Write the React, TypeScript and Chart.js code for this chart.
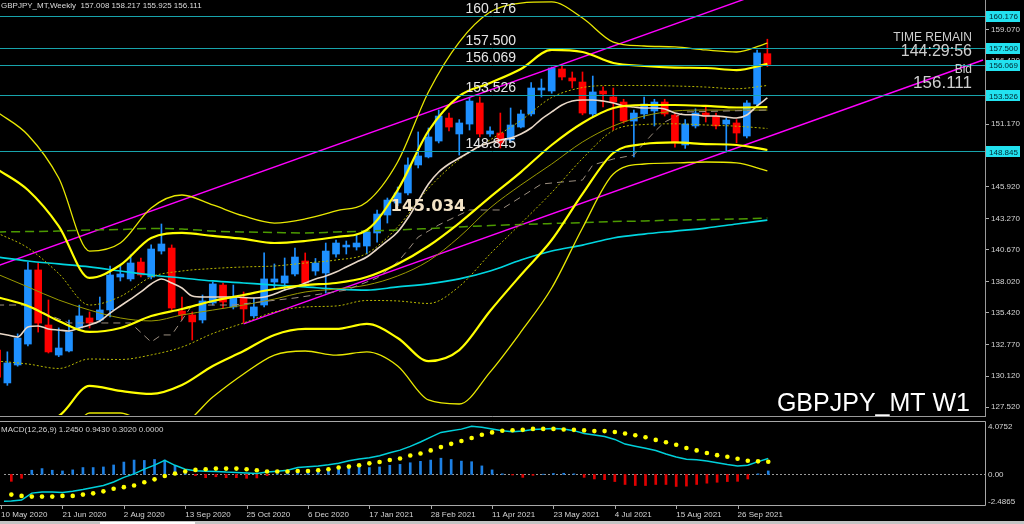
import React, { useEffect, useRef } from 'react';
import { Chart, registerables } from 'chart.js';

Chart.register(...registerables);

// ---------- Candles (weekly, index 0 = 10 May 2020 ... 75 = 17 Oct 2021) ----------
const opens = [
  132.25, 129.5, 131.0, 132.75, 138.94, 134.34, 131.83, 132.17, 134.09, 134.93,
  134.76, 135.6, 138.35, 138.19, 139.6, 138.35, 140.52, 140.77, 135.51, 135.18,
  134.76, 136.18, 137.68, 135.85, 136.6, 135.1, 136.01, 137.93, 137.85, 138.6,
  139.69, 138.85, 138.68, 140.27, 140.86, 140.86, 140.94, 142.03, 143.53, 144.53,
  145.37, 147.71, 148.38, 149.71, 151.63, 150.3, 151.13, 152.89, 150.3, 150.38,
  149.8, 150.88, 151.97, 153.97, 153.89, 155.73, 154.98, 154.64, 151.97, 153.89,
  153.39, 152.97, 151.38, 151.97, 152.22, 152.97, 151.88, 149.38, 150.97, 152.05,
  151.8, 151.13, 151.22, 150.13, 152.8, 157.008,
];
const highs = [
  133.0, 132.1, 133.6, 139.6, 139.5, 136.43, 134.1, 134.76, 136.0, 135.43,
  136.68, 139.27, 139.27, 140.2, 139.94, 141.03, 142.78, 141.03, 136.68, 135.43,
  136.85, 137.93, 137.85, 137.68, 137.1, 136.6, 140.36, 139.44, 139.94, 140.77,
  140.36, 139.9, 141.19, 141.44, 141.36, 141.94, 142.28, 143.94, 144.95, 145.87,
  148.3, 150.47, 150.8, 152.3, 152.05, 151.5, 153.3, 153.39, 150.9, 152.05,
  152.47, 152.3, 154.6, 154.89, 155.89, 156.0, 155.48, 155.48, 155.14, 154.23,
  154.14, 153.2, 152.3, 153.39, 153.2, 153.2, 152.0, 151.5, 152.4, 152.55,
  152.05, 151.7, 151.5, 153.1, 157.3, 158.217,
];
const lows = [
  129.5, 129.3, 130.9, 132.6, 133.75, 132.0, 131.7, 132.1, 133.9, 134.09,
  134.6, 135.01, 138.02, 138.02, 138.35, 138.2, 140.27, 135.6, 134.76, 133.09,
  134.51, 136.01, 135.76, 135.68, 134.51, 134.93, 135.85, 137.43, 137.26, 138.44,
  137.6, 138.5, 137.0, 140.0, 140.27, 140.6, 140.27, 141.27, 142.86, 144.3,
  145.2, 147.46, 148.3, 149.55, 150.55, 148.54, 150.63, 150.05, 150.1, 149.13,
  149.6, 150.8, 151.8, 153.39, 153.7, 154.81, 154.14, 151.9, 151.72, 152.55,
  150.63, 151.2, 148.38, 151.6, 150.97, 151.8, 149.2, 149.1, 150.8, 151.3,
  150.72, 148.8, 149.55, 149.97, 152.6, 155.925,
];
const closes = [
  129.98, 131.17, 133.25, 138.94, 134.5, 132.09, 132.42, 133.76, 135.1, 134.51,
  135.6, 138.52, 138.6, 139.52, 138.52, 140.69, 141.11, 135.76, 135.18, 134.6,
  136.35, 137.77, 136.26, 136.68, 135.68, 135.85, 138.19, 138.19, 138.44, 140.02,
  137.85, 139.52, 140.52, 141.19, 141.02, 141.19, 142.11, 143.61, 144.78, 145.37,
  147.71, 148.46, 150.05, 151.8, 150.88, 151.22, 153.05, 150.3, 150.55, 149.55,
  151.05, 151.97, 154.14, 154.14, 155.81, 155.06, 154.73, 152.05, 153.81, 153.64,
  152.97, 151.38, 152.05, 152.8, 152.97, 151.97, 149.55, 151.13, 152.05, 151.8,
  150.97, 151.47, 150.38, 152.89, 157.07, 156.111,
];

// ---------- Indicator lines read every 3 bars ----------
const bandIdx = [0, 3, 6, 9, 12, 15, 18, 21, 24, 27, 30, 33, 36, 39, 42, 45, 48, 51, 54, 57, 60, 63, 66, 69, 72, 75];
const bbMid = [136.68, 135.93, 134.68, 133.76, 134.09, 135.09, 135.68, 136.35, 136.85, 137.35, 137.68, 137.85, 138.35, 139.44, 140.94, 142.86, 145.03, 147.12, 149.38, 151.22, 152.47, 152.72, 152.72, 152.64, 152.51, 152.55];
const bbUp2 = [147.37, 145.62, 142.61, 138.27, 139.35, 141.61, 142.03, 141.78, 141.53, 141.19, 141.36, 141.69, 142.28, 145.62, 150.55, 153.47, 154.56, 155.73, 157.32, 157.15, 156.23, 155.98, 155.85, 155.81, 155.64, 156.15];
const bbLo2 = [125.99, 126.24, 126.74, 129.25, 128.83, 128.58, 129.33, 130.92, 132.17, 133.51, 134.01, 134.01, 134.43, 133.26, 131.33, 132.25, 135.51, 138.52, 141.44, 145.29, 148.71, 149.46, 149.59, 149.46, 149.38, 148.96];
const bbUp3 = [152.14, 150.22, 146.62, 140.52, 141.19, 144.12, 145.2, 144.37, 143.45, 142.86, 143.2, 143.87, 144.62, 147.96, 153.81, 157.98, 160.49, 161.24, 161.33, 159.99, 157.98, 157.65, 157.57, 157.32, 157.15, 157.9];
const bbLo3 = [121.23, 121.64, 122.73, 126.99, 126.99, 126.07, 126.16, 128.33, 130.25, 131.83, 132.17, 131.83, 132.09, 130.92, 128.08, 127.74, 130.41, 133.76, 137.43, 142.45, 146.96, 147.79, 147.88, 147.96, 147.88, 147.21];
const bbUp1 = [142.03, 140.78, 138.64, 136.01, 136.72, 138.35, 138.85, 139.06, 139.19, 139.27, 139.52, 139.77, 140.32, 142.53, 145.75, 148.17, 149.8, 151.43, 153.35, 154.18, 154.35, 154.35, 154.31, 154.22, 154.08, 154.35];
const bbLo1 = [131.33, 131.08, 130.71, 131.5, 131.46, 131.84, 132.5, 133.63, 134.51, 135.43, 135.85, 135.93, 136.39, 136.35, 136.14, 137.56, 140.27, 142.82, 145.41, 148.25, 150.59, 151.09, 151.15, 151.05, 150.95, 150.76];
const maOlive = [138.6, 137.52, 136.43, 135.59, 134.93, 134.68, 135.18, 135.59, 136.01, 136.51, 137.1, 137.35, 137.68, 138.44, 139.69, 141.69, 144.12, 146.04, 147.79, 149.63, 150.97, 151.8, 152.22, 152.3, 152.3, 152.3];
const maCyan = [140.02, 139.69, 139.44, 139.19, 138.85, 138.52, 138.27, 138.02, 137.85, 137.68, 137.52, 137.35, 137.26, 137.52, 137.77, 138.19, 138.85, 139.77, 140.52, 141.02, 141.61, 141.94, 142.19, 142.44, 142.78, 143.11];
const maGreen = [142.11, 142.15, 142.19, 142.28, 142.32, 142.4, 142.36, 142.19, 142.11, 142.07, 142.03, 142.11, 142.19, 142.28, 142.4, 142.53, 142.65, 142.74, 142.82, 142.9, 142.99, 143.03, 143.11, 143.15, 143.2, 143.28];

// short MA, every bar
const maBeige = [
  133.67, 133.51, 133.34, 134.18, 134.26, 134.01, 133.92, 133.84, 134.09, 134.34,
  134.68, 135.34, 135.93, 136.51, 137.1, 137.77, 138.19, 137.85, 137.43, 136.76,
  136.68, 136.68, 136.68, 136.68, 136.64, 136.6, 136.68, 136.93, 137.26, 137.52,
  137.85, 138.19, 138.44, 138.77, 139.19, 139.6, 140.02, 140.69, 141.36, 142.11,
  143.28, 144.7, 146.12, 147.12, 147.79, 148.29, 148.79, 149.29, 149.55, 149.8,
  149.96, 150.3, 150.8, 151.55, 152.14, 152.72, 153.05, 153.14, 153.14, 153.05,
  152.89, 152.64, 152.55, 152.47, 152.47, 152.39, 152.05, 151.9, 151.9, 151.8,
  151.8, 151.72, 151.63, 151.88, 152.64, 153.31,
];

// step-like dashed line
const kijunIdx = [0, 3, 5, 7, 13, 15, 16, 17, 18, 19, 23, 29, 34, 37, 39, 40, 41, 43, 46, 49, 51, 53, 57, 58, 60, 62, 63, 64, 65, 66, 67, 75];
const kijun = [136.01, 136.01, 135.18, 134.51, 134.51, 132.92, 133.51, 133.51, 134.76, 136.01, 136.01, 136.6, 137.26, 138.27, 139.6, 140.61, 141.69, 142.7, 143.95, 143.95, 145.03, 146.12, 146.45, 147.71, 148.21, 148.54, 149.55, 150.47, 151.3, 151.72, 152.14, 152.3];

// trend channel (bar index, price)
const trendUpperIdx = [0, 90];
const trendUpper = [139.27, 166.84];
const trendLowerIdx = [24, 96];
const trendLower = [134.43, 156.48];

// horizontal levels
const levels = [160.176, 157.5, 156.069, 153.526, 148.845];
const markPrice = 145.034;

// ---------- MACD ----------
const macdHist = [
  -0.75, -0.59, -0.33, 0.36, 0.5, 0.36, 0.3, 0.39, 0.59, 0.59,
  0.64, 0.81, 1.06, 1.23, 1.2, 1.28, 1.23, 0.78, 0.39, -0.1,
  -0.28, -0.2, -0.28, -0.28, -0.33, -0.3, -0.1, 0.05, 0.1, 0.3,
  0.39, 0.45, 0.5, 0.59, 0.73, 0.67, 0.59, 0.64, 0.78, 0.86,
  1.0, 1.12, 1.23, 1.39, 1.28, 1.14, 1.09, 0.73, 0.39, 0.05,
  -0.05, -0.25, -0.08, 0.02, 0.08, 0.1, 0.05, -0.25, -0.39, -0.45,
  -0.61, -0.86, -0.95, -0.95, -0.86, -0.86, -1.03, -1.0, -0.86, -0.75,
  -0.67, -0.61, -0.59, -0.39, 0.05, 0.3,
];
const macdMain = [
  -2.3, -2.28, -2.2, -1.6, -1.5, -1.5, -1.55, -1.45, -1.3, -1.12,
  -0.95, -0.65, -0.25, 0.05, 0.45, 0.8, 1.2, 0.78, 0.45, 0.31,
  0.28, 0.25, 0.2, 0.17, 0.12, 0.08, 0.2, 0.28, 0.36, 0.6,
  0.66, 0.73, 0.83, 0.95, 1.18, 1.33, 1.42, 1.6, 1.85, 2.08,
  2.4, 2.78, 3.2, 3.6, 3.75, 3.88, 4.12, 4.05, 3.9, 3.75,
  3.65, 3.72, 3.85, 3.9, 3.93, 3.9, 3.75, 3.5, 3.38, 3.25,
  3.0, 2.6, 2.42, 2.25, 2.05, 1.75, 1.5, 1.3, 1.25, 1.15,
  1.0, 0.85, 0.73, 0.78, 1.1, 1.37,
];
const macdSignal = [
  -1.6, -1.73, -1.84, -1.9, -1.9, -1.9, -1.84, -1.84, -1.73, -1.62,
  -1.45, -1.23, -1.09, -0.95, -0.67, -0.42, -0.14, 0.08, 0.25, 0.39,
  0.45, 0.5, 0.5, 0.5, 0.45, 0.36, 0.25, 0.25, 0.25, 0.3,
  0.3, 0.36, 0.45, 0.59, 0.67, 0.78, 0.95, 1.06, 1.23, 1.37,
  1.62, 1.79, 2.06, 2.34, 2.62, 2.87, 3.12, 3.4, 3.6, 3.74,
  3.79, 3.82, 3.9, 3.9, 3.9, 3.85, 3.82, 3.77, 3.71, 3.71,
  3.63, 3.51, 3.35, 3.18, 2.96, 2.76, 2.54, 2.26, 2.06, 1.84,
  1.65, 1.51, 1.34, 1.17, 1.12, 1.09,
];

// ---------- Axis labels ----------
const priceTicks = [159.07, 156.42, 153.82, 151.17, 148.57, 145.92, 143.27, 140.67, 138.02, 135.42, 132.77, 130.12, 127.52];
const timeTickIdx = [0, 6, 12, 18, 24, 30, 36, 42, 48, 54, 60, 66, 72];
const timeLabels = ['10 May 2020', '21 Jun 2020', '2 Aug 2020', '13 Sep 2020', '25 Oct 2020', '6 Dec 2020', '17 Jan 2021', '28 Feb 2021', '11 Apr 2021', '23 May 2021', '4 Jul 2021', '15 Aug 2021', '26 Sep 2021'];
const macdAxisLabels = [4.0752, 0, -2.4865];
const headerText = 'GBPJPY_MT,Weekly  157.008 158.217 155.925 156.111';
const macdText = 'MACD(12,26,9) 1.2450 0.9430 0.3020 0.0000';

// ---------- view ranges ----------
const X_MIN = 0.2824;
const X_MAX = 96.19;
const Y_MIN = 126.822;
const Y_MAX = 161.493;
const M_MIN = -2.619;
const M_MAX = 4.577;

const UP = '#1e90ff';
const DOWN = '#ff0000';
const SMALL_FONT = '8px "Liberation Sans", Arial, sans-serif';

const pts = (idx: number[], vals: number[]) => vals.map((v, k) => ({ x: idx[k], y: v }));
const allIdx = (vals: number[]) => vals.map((_, i) => i);

function line(data: any[], color: string, width: number, dash: number[] = [], smooth = true, order = 1) {
  return {
    type: 'line',
    data,
    borderColor: color,
    borderWidth: width,
    borderDash: dash,
    pointRadius: 0,
    fill: false,
    tension: 0,
    cubicInterpolationMode: smooth ? 'monotone' : 'default',
    order,
  };
}

const mainOverlay = {
  id: 'mainOverlay',
  afterDatasetsDraw(chart: any) {
    const { ctx, chartArea: a, scales } = chart;
    const ys = scales.y;
    ctx.save();
    ctx.strokeStyle = '#18a4ac';
    ctx.lineWidth = 1;
    for (const v of levels) {
      const py = Math.round(ys.getPixelForValue(v)) + 0.5;
      ctx.beginPath();
      ctx.moveTo(a.left, py);
      ctx.lineTo(a.right, py);
      ctx.stroke();
    }
    ctx.restore();
  },
  afterDraw(chart: any) {
    const { ctx, chartArea: a, scales } = chart;
    const xs = scales.x;
    const ys = scales.y;
    ctx.save();
    // frame
    ctx.strokeStyle = '#9a9a9a';
    ctx.lineWidth = 1;
    ctx.beginPath();
    ctx.moveTo(a.right + 0.5, 0);
    ctx.lineTo(a.right + 0.5, a.bottom + 2);
    ctx.moveTo(0, a.bottom + 1.5);
    ctx.lineTo(a.right + 0.5, a.bottom + 1.5);
    ctx.stroke();

    // price ticks
    ctx.font = SMALL_FONT;
    ctx.textAlign = 'left';
    ctx.textBaseline = 'middle';
    for (const t of priceTicks) {
      const py = ys.getPixelForValue(t);
      ctx.strokeStyle = '#b0b0b0';
      ctx.beginPath();
      ctx.moveTo(a.right + 1, Math.round(py) + 0.5);
      ctx.lineTo(a.right + 4, Math.round(py) + 0.5);
      ctx.stroke();
      ctx.fillStyle = '#d4d4d4';
      ctx.fillText(t.toFixed(3), a.right + 6, py + 0.5);
    }
    // level boxes
    for (const v of levels) {
      const py = ys.getPixelForValue(v);
      ctx.fillStyle = '#22e2f0';
      ctx.fillRect(a.right + 1, Math.round(py) - 5, 34, 11);
      ctx.fillStyle = '#002630';
      ctx.fillText(v.toFixed(3), a.right + 4, py + 1);
    }

    // on-chart level labels
    ctx.font = '14px "Liberation Sans", Arial, sans-serif';
    ctx.fillStyle = '#e6e6e6';
    ctx.textBaseline = 'alphabetic';
    const lx = xs.getPixelForValue(45.6);
    for (const v of levels) {
      ctx.fillText(v.toFixed(3), lx, ys.getPixelForValue(v) - 3);
    }
    // marked price
    ctx.font = 'bold 16.5px "DejaVu Sans", sans-serif';
    ctx.fillStyle = '#f3e3c6';
    ctx.textBaseline = 'top';
    ctx.fillText(markPrice.toFixed(3), xs.getPixelForValue(38.3), ys.getPixelForValue(markPrice) + 1);

    // header
    ctx.font = SMALL_FONT;
    ctx.fillStyle = '#dcdcdc';
    ctx.textBaseline = 'alphabetic';
    ctx.fillText(headerText, 1, 8);

    // right info
    ctx.textAlign = 'right';
    ctx.fillStyle = '#cfcfcf';
    ctx.font = '12px "Liberation Sans", Arial, sans-serif';
    ctx.fillText('TIME REMAIN', 972, 41);
    ctx.font = '16px "Liberation Sans", Arial, sans-serif';
    ctx.fillText('144:29:56', 972, 56);
    ctx.font = '12px "Liberation Sans", Arial, sans-serif';
    ctx.fillText('Bid', 972, 73);
    ctx.font = '17px "Liberation Sans", Arial, sans-serif';
    ctx.fillText('156.111', 972, 88);

    // symbol
    ctx.font = '25px "Liberation Sans", Arial, sans-serif';
    ctx.fillStyle = '#ffffff';
    ctx.fillText('GBPJPY_MT W1', 970, 411);
    ctx.restore();
  },
};

const macdOverlay = {
  id: 'macdOverlay',
  beforeDatasetsDraw(chart: any) {
    const { ctx, chartArea: a, scales } = chart;
    const py = Math.round(scales.y.getPixelForValue(0)) + 0.5;
    ctx.save();
    ctx.strokeStyle = '#9a9a9a';
    ctx.setLineDash([2, 2]);
    ctx.beginPath();
    ctx.moveTo(a.left, py);
    ctx.lineTo(a.right, py);
    ctx.stroke();
    ctx.restore();
  },
  afterDraw(chart: any) {
    const { ctx, chartArea: a, scales } = chart;
    const xs = scales.x;
    const ys = scales.y;
    ctx.save();
    ctx.strokeStyle = '#a8a8a8';
    ctx.lineWidth = 1;
    ctx.beginPath();
    ctx.moveTo(0, a.top + 0.5);
    ctx.lineTo(a.right + 0.5, a.top + 0.5);
    ctx.lineTo(a.right + 0.5, a.bottom + 0.5);
    ctx.lineTo(0, a.bottom + 0.5);
    ctx.stroke();

    ctx.font = SMALL_FONT;
    ctx.fillStyle = '#d4d4d4';
    ctx.textAlign = 'left';
    ctx.textBaseline = 'alphabetic';
    ctx.fillText(macdText, 1, a.top + 11);

    ctx.textBaseline = 'middle';
    macdAxisLabels.forEach((v, k) => {
      const py = ys.getPixelForValue(v) + (k === 2 ? -2 : 0);
      ctx.fillText(v === 0 ? '0.00' : v.toFixed(4), a.right + 3, py);
    });

    ctx.textBaseline = 'alphabetic';
    timeTickIdx.forEach((idx, k) => {
      const px = xs.getPixelForValue(idx);
      ctx.strokeStyle = '#a8a8a8';
      ctx.beginPath();
      ctx.moveTo(Math.round(px) + 0.5, a.bottom);
      ctx.lineTo(Math.round(px) + 0.5, a.bottom + 4);
      ctx.stroke();
      ctx.fillStyle = '#d4d4d4';
      ctx.fillText(timeLabels[k], px, a.bottom + 11.5);
    });

    // scrollbar strip
    ctx.fillStyle = '#c4c4c4';
    ctx.fillRect(0, chart.height - 3, chart.width, 3);
    ctx.fillStyle = '#ffffff';
    ctx.fillRect(100, chart.height - 2, 95, 2);
    ctx.restore();
  },
};

export default function App() {
  const mainRef = useRef<HTMLCanvasElement>(null);
  const macdRef = useRef<HTMLCanvasElement>(null);

  useEffect(() => {
    document.body.style.margin = '0';
    document.body.style.background = '#000';

    const barColors = opens.map((o, i) => (closes[i] >= o ? UP : DOWN));
    const wickData = highs.map((h, i) => ({ x: i, y: [lows[i], h] }));
    const bodyData = opens.map((o, i) => ({ x: i, y: [o, closes[i]] }));

    const mainChart = new Chart(mainRef.current as HTMLCanvasElement, {
      type: 'bar',
      data: {
        datasets: [
          { type: 'bar', data: wickData, backgroundColor: barColors, barThickness: 1, grouped: false, order: 20, borderWidth: 0 } as any,
          { type: 'bar', data: bodyData, backgroundColor: barColors, barThickness: 7, minBarLength: 1, grouped: false, order: 19, borderWidth: 0 } as any,
          line(pts(trendUpperIdx, trendUpper), '#ff00ff', 1.4, [], false, 9),
          line(pts(trendLowerIdx, trendLower), '#ff00ff', 1.4, [], false, 9),
          line(pts(bandIdx, maGreen), '#4c9a00', 1.5, [9, 5], true, 8),
          line(pts(bandIdx, maCyan), '#00d6e0', 1.7, [], true, 7),
          line(pts(kijunIdx, kijun), '#9c8f80', 1, [7, 5], false, 6),
          line(pts(bandIdx, maOlive), '#9a9a00', 1, [], true, 6),
          line(pts(bandIdx, bbUp1), '#b8b800', 1, [2, 2], true, 5),
          line(pts(bandIdx, bbLo1), '#b8b800', 1, [2, 2], true, 5),
          line(pts(bandIdx, bbUp3), '#e8e800', 1.3, [], true, 4),
          line(pts(bandIdx, bbLo3), '#e8e800', 1.3, [], true, 4),
          line(pts(allIdx(maBeige), maBeige), '#e9d8c8', 1.6, [], true, 3),
          line(pts(bandIdx, bbUp2), '#ffff00', 2.2, [], true, 2),
          line(pts(bandIdx, bbLo2), '#ffff00', 2.2, [], true, 2),
          line(pts(bandIdx, bbMid), '#ffff00', 2.2, [], true, 2),
        ] as any,
      },
      options: {
        responsive: false,
        maintainAspectRatio: false,
        animation: false,
        events: [],
        layout: { padding: { left: 0, top: 0, right: 39, bottom: 2 } },
        plugins: { legend: { display: false }, tooltip: { enabled: false }, title: { display: false } },
        scales: {
          x: { type: 'linear', min: X_MIN, max: X_MAX, display: false, offset: false },
          y: { type: 'linear', min: Y_MIN, max: Y_MAX, display: false },
        },
      } as any,
      plugins: [mainOverlay as any],
    });

    const histColors = macdHist.map((v) => (v >= 0 ? '#1d80e4' : '#e00000'));
    const macdChart = new Chart(macdRef.current as HTMLCanvasElement, {
      type: 'bar',
      data: {
        datasets: [
          { type: 'bar', data: macdHist.map((v, i) => ({ x: i, y: v })), backgroundColor: histColors, barThickness: 2, grouped: false, order: 3, borderWidth: 0 } as any,
          { type: 'line', data: pts(allIdx(macdMain), macdMain), borderColor: '#00d0da', borderWidth: 1.5, pointRadius: 0, tension: 0, order: 2 } as any,
          {
            type: 'line', data: pts(allIdx(macdSignal), macdSignal), showLine: false, pointRadius: 2.3,
            pointBackgroundColor: '#ffff00', pointBorderColor: '#ffff00', pointBorderWidth: 0, order: 1,
          } as any,
        ],
      },
      options: {
        responsive: false,
        maintainAspectRatio: false,
        animation: false,
        events: [],
        layout: { padding: { left: 0, top: 2, right: 39, bottom: 19 } },
        plugins: { legend: { display: false }, tooltip: { enabled: false }, title: { display: false } },
        scales: {
          x: { type: 'linear', min: X_MIN, max: X_MAX, display: false, offset: false },
          y: { type: 'linear', min: M_MIN, max: M_MAX, display: false },
        },
      } as any,
      plugins: [macdOverlay as any],
    });

    return () => {
      mainChart.destroy();
      macdChart.destroy();
    };
  }, []);

  return (
    <div style={{ position: 'relative', width: 1024, height: 524, background: '#000', overflow: 'hidden' }}>
      <canvas ref={mainRef} width={1024} height={417} style={{ position: 'absolute', left: 0, top: 0, display: 'block' }} />
      <canvas ref={macdRef} width={1024} height={107} style={{ position: 'absolute', left: 0, top: 417, display: 'block' }} />
    </div>
  );
}
